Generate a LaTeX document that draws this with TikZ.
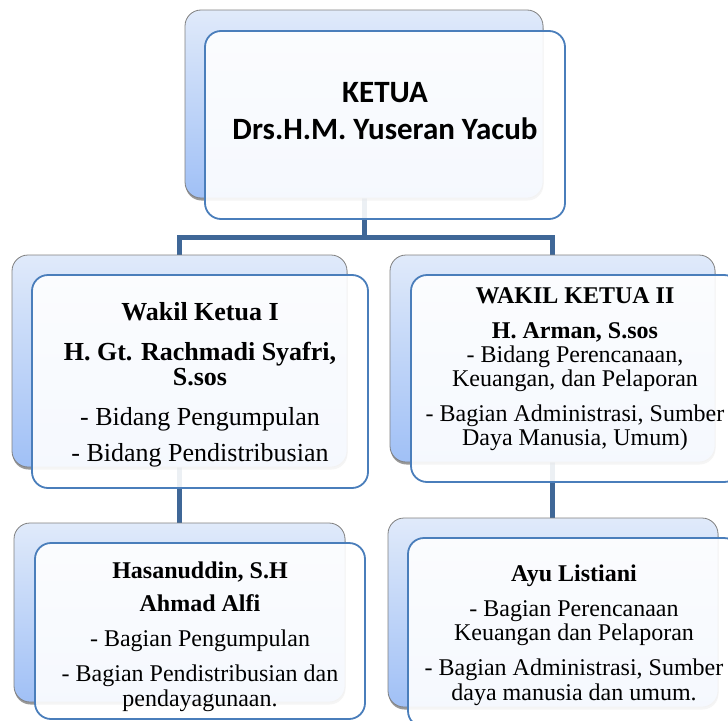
\documentclass[tikz,border=0pt]{standalone}
\usepackage{fontspec}
\setmainfont{Liberation Serif}
\newfontfamily\carlito{Carlito}
\usetikzlibrary{shadows,backgrounds}
\definecolor{conn}{RGB}{63,103,151}
\definecolor{frontline}{RGB}{74,126,187}
\definecolor{backtop}{RGB}{224,234,250}
\definecolor{backbot}{RGB}{160,192,246}
\definecolor{backline}{RGB}{128,128,128}
\tikzset{
 backbox/.style={rectangle, rounded corners=16pt, draw=backline, line width=0.8pt,
   top color=backtop, bottom color=backbot, inner sep=0pt, outer sep=0pt,
   drop shadow={shadow xshift=0.5pt, shadow yshift=-2.5pt, opacity=0.4, fill=black}},
 frontbox/.style={rectangle, rounded corners=16pt, draw=frontline, line width=1.8pt,
   fill=white, fill opacity=0.9, draw opacity=1, inner sep=0pt, outer sep=0pt},
 boxtext/.style={align=center, inner sep=0pt, text=black},
 connector/.style={draw=conn, line width=5pt},
}
\begin{document}
\begin{tikzpicture}[x=1pt,y=-1pt]
\useasboundingbox (0,0) rectangle (728,720);
\clip (0,0) rectangle (728,720);
% top
\node[backbox, minimum width=358pt, minimum height=188pt] (kb) at (364,104) {};
\node[frontbox, minimum width=360pt, minimum height=188pt] (kf) at (385,125) {};
\node[boxtext, font=\carlito\bfseries\fontsize{31}{37}\selectfont] (kt) at (385,111) {KETUA\\Drs.H.M. Yuseran Yacub};
% wakil 1
\node[backbox, minimum width=335pt, minimum height=212pt] (w1b) at (179.5,361) {};
\node[frontbox, minimum width=336pt, minimum height=213pt] (w1f) at (200,381.5) {};
\node[boxtext, font=\fontsize{26}{25}\selectfont] (w1t) at (200,385)
 {\textbf{Wakil Ketua I}\\[15pt]\textbf{H. Gt. Rachmadi Syafri,}\\\textbf{S.sos}\\[15pt]- Bidang Pengumpulan\\[11pt]- Bidang Pendistribusian};
% wakil 2
\node[backbox, minimum width=325pt, minimum height=207pt] (w2b) at (552.5,358.5) {};
\node[frontbox, minimum width=329pt, minimum height=207pt] (w2f) at (575.5,378.5) {};
\node[boxtext, font=\fontsize{24}{24}\selectfont] (w2t) at (575,369)
 {\textbf{WAKIL KETUA II}\\[11pt]\textbf{H. Arman, S.sos}\\- Bidang Perencanaan,\\Keuangan, dan Pelaporan\\[11pt]- Bagian Administrasi, Sumber\\Daya Manusia, Umum)};
% bottom left
\node[backbox, minimum width=331pt, minimum height=179pt] (h1b) at (179.5,612.5) {};
\node[frontbox, minimum width=330pt, minimum height=176pt] (h1f) at (200,631) {};
\node[boxtext, font=\fontsize{24}{25}\selectfont] (h1t) at (200,636.5)
 {\textbf{Hasanuddin, S.H}\\[8pt]\textbf{Ahmad Alfi}\\[10pt]- Bagian Pengumpulan\\[10pt]- Bagian Pendistribusian dan\\pendayagunaan.};
% bottom right
\node[backbox, minimum width=330pt, minimum height=189pt] (ab) at (553,612.5) {};
\node[frontbox, minimum width=332pt, minimum height=189pt] (af) at (574,632.5) {};
\node[boxtext, font=\fontsize{24}{24.5}\selectfont] (at) at (574,635)
 {\textbf{Ayu Listiani}\\[10.5pt]- Bagian Perencanaan\\Keuangan dan Pelaporan\\[10.5pt]- Bagian Administrasi, Sumber\\daya manusia dan umum.};
\coordinate (bus) at (364,237.5);
\begin{scope}[on background layer]
\fill[white] (0,0) rectangle (728,720);
\draw[connector] (kb.south) -- (kb.south |- bus) -| (w1b.north);
\draw[connector] (kb.south |- bus) -| (w2b.north);
\draw[connector] (w1b.south) -- (h1b.north);
\draw[connector] (w2b.south) -- (w2b.south |- ab.north);
\end{scope}
\end{tikzpicture}
\end{document}
